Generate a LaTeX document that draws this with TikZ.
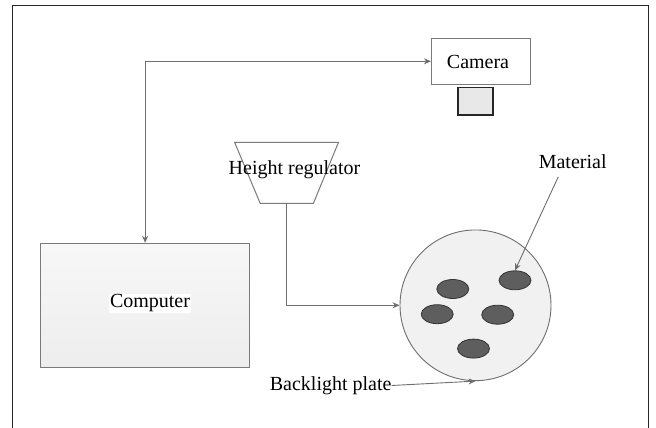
\documentclass[tikz,border=0pt]{standalone}
\usepackage{fontspec}
\setmainfont{Liberation Serif}
\usetikzlibrary{arrows.meta,shapes.geometric}
\definecolor{linegray}{HTML}{6E6E6E}
\definecolor{boxgray}{HTML}{7A7A7A}
\definecolor{matfill}{HTML}{5E5E5E}
\definecolor{platefill}{HTML}{F1F1F1}
\tikzset{
  lbl/.style={font=\fontsize{20}{24}\selectfont, inner sep=0pt},
  conn/.style={draw=linegray, line width=0.9pt, -{Stealth[length=7pt,width=6pt]}},
  matdot/.style={ellipse, draw=black!80, fill=matfill, line width=0.8pt, minimum width=32pt, minimum height=19pt, inner sep=0pt},
  box/.style={draw=boxgray, line width=1pt, inner sep=0pt}
}
\begin{document}
\begin{tikzpicture}[x=1pt,y=-1pt]
\useasboundingbox (0,0) rectangle (656,428);
% outer frame
\draw[black!85, line width=0.8pt] (12.6,428) -- (12.6,5.7) -- (648.5,5.7) -- (648.5,428);
% camera
\node[box, fill=white, minimum width=99.5pt, minimum height=46pt] (camera) at (481.2,61.3) {};
\node[lbl] (cameratext) at (478,62) {Camera};
\node[draw=black!85, line width=1.3pt, fill=black!9, minimum width=35pt, minimum height=27.7pt, inner sep=0pt] (lens) at (475.5,101.2) {};
% computer
\node[box, top color=black!3, bottom color=black!7, minimum width=209pt, minimum height=124.4pt] (computer) at (145.15,305.5) {};
\node[lbl, fill=white, inner sep=1pt] (computertext) at (150,303.3) {Computer};
% height regulator
\draw[box, fill=white] (234.6,142.3) -- (338.5,142.3) -- (313.4,203.3) -- (260.2,203.3) -- cycle;
\coordinate (hrbottom) at (286,203.3);
\node[lbl] (hrtext) at (294.5,170) {Height regulator};
% plate
\node[ellipse, draw=linegray, line width=0.9pt, fill=platefill, minimum width=151pt, minimum height=150.7pt, inner sep=0pt] (plate) at (475.5,305.3) {};
\node[matdot] (m1) at (452.8,289) {};
\node[matdot] (m2) at (515,280.3) {};
\node[matdot] (m3) at (437.2,314.2) {};
\node[matdot] (m4) at (497.7,314.7) {};
\node[matdot] (m5) at (473.5,348.6) {};
% labels
\node[lbl] (material) at (572.7,162) {Material};
\coordinate (matstart) at (558.3,176.7);
\node[lbl, anchor=east] (backlight) at (391.7,385.5) {Backlight plate};
% connectors
\draw[conn, {Stealth[length=7pt,width=6pt]}-{Stealth[length=7pt,width=6pt]}] (computer.north) |- (camera.west);
\draw[conn] (hrbottom) |- (plate.west);
\draw[conn] (matstart) -- (m2.north);
\draw[conn] (backlight.east) -- (plate.south);
\end{tikzpicture}
\end{document}
